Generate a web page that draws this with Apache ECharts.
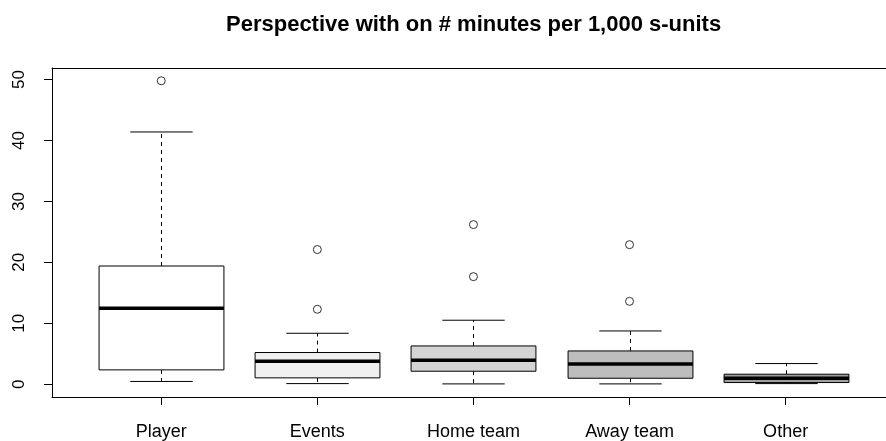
<!DOCTYPE html>
<html>
<head>
<meta charset="utf-8">
<script src="https://cdn.jsdelivr.net/npm/echarts@6/dist/echarts.min.js"></script>
<style>
  html, body { margin: 0; padding: 0; background: #fff; }
  #main { width: 886px; height: 441px; }
</style>
</head>
<body>
<div id="main"></div>
<script>
(function () {

  var categories = ['Player', 'Events', 'Home team', 'Away team', 'Other'];
  var lowerWhisker = [0.45, 0.1, 0.05, 0.05, 0.1];
  var q1 = [2.35, 1.04, 2.13, 0.98, 0.27];
  var median = [12.45, 3.77, 3.93, 3.33, 0.98];
  var q3 = [19.4, 5.2, 6.28, 5.46, 1.64];
  var upperWhisker = [41.4, 8.36, 10.5, 8.74, 3.39];
  // [box number, value]
  var outliers = [[1, 49.8], [2, 22.1], [2, 12.3], [3, 26.2], [3, 17.65], [4, 22.9], [4, 13.6]];
  var yTicks = [0, 10, 20, 30, 40, 50];
  var xTicks = [1, 2, 3, 4, 5];

  var boxColors = ['#ffffff', '#f0f0f0', '#d4d4d4', '#bdbdbd', '#9f9f9f'];
  var font = 'Liberation Sans, Arial, sans-serif';

  var boxData = categories.map((c, i) => [i + 1, lowerWhisker[i], q1[i], median[i], q3[i], upperWhisker[i]]);

  function renderBox(params, api) {
    var x = api.value(0);
    var pLow = api.coord([x, api.value(1)]);
    var pQ1 = api.coord([x, api.value(2)]);
    var pMed = api.coord([x, api.value(3)]);
    var pQ3 = api.coord([x, api.value(4)]);
    var pUp = api.coord([x, api.value(5)]);
    var half = api.size([0.8, 0])[0] / 2;
    var cap = half / 2;
    var cx = Math.round(pMed[0]) + 0.5;
    var dash = {stroke: '#000', lineWidth: 1, lineDash: [4, 4]};
    var solid = {stroke: '#000', lineWidth: 1};
    return {
      type: 'group',
      children: [
        {type: 'line', shape: {x1: cx, y1: pQ3[1], x2: cx, y2: pUp[1]}, style: dash},
        {type: 'line', shape: {x1: cx, y1: pQ1[1], x2: cx, y2: pLow[1]}, style: dash},
        {type: 'line', shape: {x1: cx - cap, y1: pUp[1], x2: cx + cap, y2: pUp[1]}, style: solid},
        {type: 'line', shape: {x1: cx - cap, y1: pLow[1], x2: cx + cap, y2: pLow[1]}, style: solid},
        {
          type: 'rect',
          shape: {x: cx - half, y: pQ3[1], width: half * 2, height: pQ1[1] - pQ3[1]},
          style: {fill: boxColors[params.dataIndex], stroke: '#000', lineWidth: 1}
        },
        {type: 'line', shape: {x1: cx - half, y1: pMed[1], x2: cx + half, y2: pMed[1]}, style: {stroke: '#000', lineWidth: 3.5}}
      ]
    };
  }

  var myChart = echarts.init(document.getElementById('main'));
  var option = {
    backgroundColor: '#fff',
    animation: false,
    title: {
      text: 'Perspective with on # minutes per 1,000 s-units',
      left: 221,
      top: 9,
      textStyle: {
        fontFamily: font,
        fontSize: 22,
        fontWeight: 'bold',
        color: '#000'
      }
    },
    grid: {
      left: 52,
      right: 0,
      top: 68,
      bottom: 43
    },
    xAxis: [{
      type: 'value',
      min: 0.3,
      max: 5.643,
      axisLine: {show: true, onZero: false, lineStyle: {color: '#000', width: 1}},
      splitLine: {show: false},
      axisTick: {
        show: true,
        customValues: xTicks,
        length: 8,
        lineStyle: {color: '#000'}
      },
      axisLabel: {
        customValues: xTicks,
        formatter: v => categories[Math.round(v) - 1],
        margin: 26,
        fontFamily: font,
        fontSize: 18,
        color: '#000'
      }
    }, {
      type: 'value',
      position: 'top',
      min: 0.3,
      max: 5.643,
      axisLine: {show: true, onZero: false, lineStyle: {color: '#000', width: 1}},
      splitLine: {show: false},
      axisTick: {show: false},
      axisLabel: {show: false}
    }],
    yAxis: {
      type: 'value',
      min: -2.1,
      max: 51.9,
      axisLine: {show: true, onZero: false, lineStyle: {color: '#000', width: 1}},
      splitLine: {show: false},
      axisTick: {
        show: true,
        customValues: yTicks,
        length: 8,
        lineStyle: {color: '#000'}
      },
      axisLabel: {
        customValues: yTicks,
        rotate: 90,
        margin: 24,
        fontFamily: font,
        fontSize: 17,
        color: '#000'
      }
    },
    series: [
      {
        type: 'custom',
        renderItem: renderBox,
        data: boxData,
        encode: {x: 0, y: [1, 2, 3, 4, 5]}
      },
      {
        type: 'scatter',
        symbol: 'circle',
        symbolSize: 8,
        itemStyle: {color: '#fff', borderColor: '#000', borderWidth: 1},
        data: outliers
      }
    ]
  };

  myChart.setOption(option);
})()
</script>
</body>
</html>
